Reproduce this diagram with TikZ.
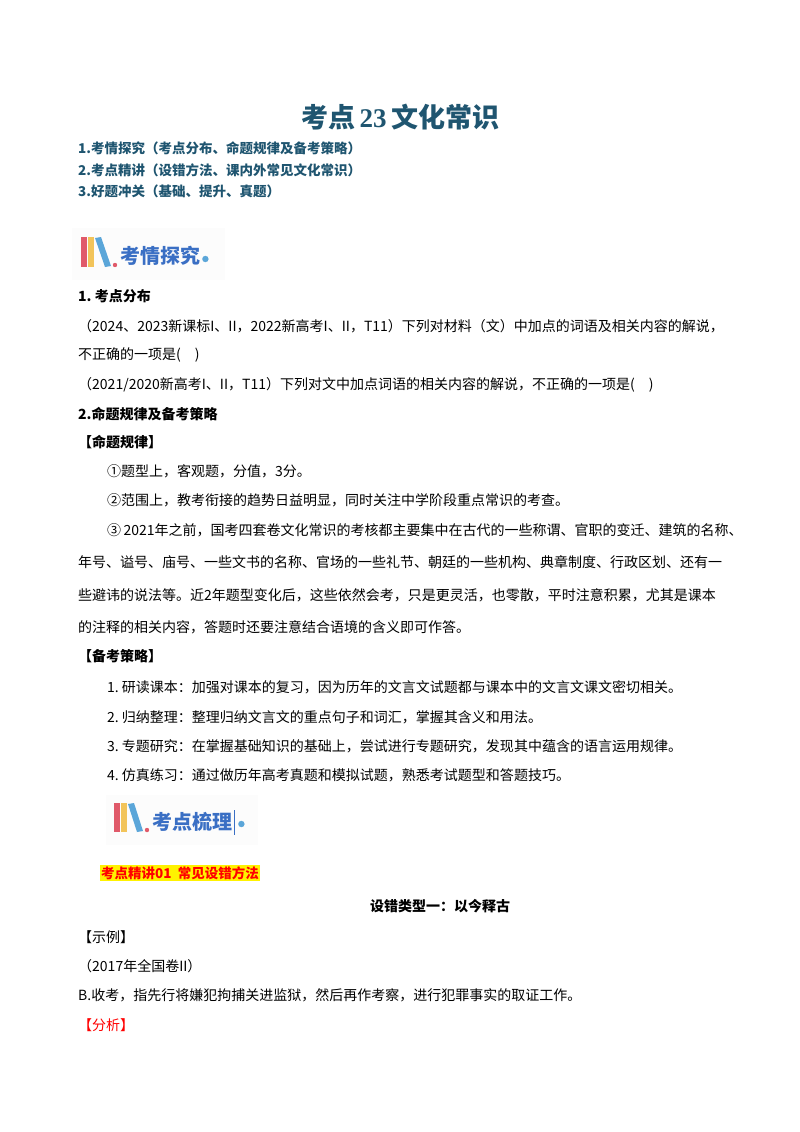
\documentclass[tikz,border=0pt]{standalone}
\usepackage{fontspec}
\setmainfont{Noto Sans CJK SC}
\newfontfamily\lat{Liberation Serif}
\definecolor{teal}{HTML}{1F5570}
\definecolor{iconblue}{HTML}{3A6FC4}
\definecolor{bkred}{HTML}{E05A6A}
\definecolor{bkyel}{HTML}{F2C45A}
\definecolor{bkblue}{HTML}{5BA6D9}
\begin{document}
\begin{tikzpicture}[x=1pt,y=-1pt,
  tx/.style={anchor=west,inner sep=0pt,font=\fontsize{14}{16}\selectfont},
  bx/.style={tx,font=\fontsize{14}{16}\selectfont\bfseries},
  hd/.style={anchor=west,inner sep=0pt,font=\fontsize{13.5}{16}\selectfont\bfseries,text=teal}]
\useasboundingbox[fill=white] (0,0) rectangle (800,1132);
\node[inner sep=0pt,font=\fontsize{27}{30}\selectfont\bfseries,text=teal] (title) at (400,117) {考点\,{\lat 23}\,文化常识};
\node[hd] (l1) at (78,148) {1.考情探究（考点分布、命题规律及备考策略）};
\node[hd] (l2) at (78,170) {2.考点精讲（设错方法、课内外常见文化常识）};
\node[hd] (l3) at (78,191) {3.好题冲关（基础、提升、真题）};
% icon 1
\fill[black!1] (72,228) rectangle (225,280);
\fill[bkred] (81,237) rectangle (87,267);
\fill[bkyel] (88,237) rectangle (94,267);
\fill[bkblue] (95,238) -- (101,237) -- (111,266) -- (105,267) -- cycle;
\fill[bkred] (115,265) circle (2.2);
\node[anchor=west,inner sep=0pt,font=\fontsize{20}{21}\selectfont\bfseries,text=iconblue] (ic1) at (120,256) {考情探究};
\fill[bkblue] (ic1.east)++(5,3) circle (3.2);
% section 1
\node[bx] (s1) at (78,296) {1.\ 考点分布};
\node[tx] at (78,326) {（2024、2023新课标I、II，2022新高考I、II，T11）下列对材料（文）中加点的词语及相关内容的解说，};
\node[tx] at (78,355) {不正确的一项是(\quad )};
\node[tx] at (78,385) {（2021/2020新高考I、II，T11）下列对文中加点词语的相关内容的解说，不正确的一项是(\quad )};
\node[bx] at (78,414) {2.命题规律及备考策略};
\node[bx] at (78,442) {【命题规律】};
\node[tx] at (107,471) {①题型上，客观题，分值，3分。};
\node[tx] at (107,500) {②范围上，教考衔接的趋势日益明显，同时关注中学阶段重点常识的考查。};
\node[tx] at (107,530) {③\,2021年之前，国考四套卷文化常识的考核都主要集中在古代的一些称谓、官职的变迁、建筑的名称、};
\node[tx] at (78,562) {年号、谥号、庙号、一些文书的名称、官场的一些礼节、朝廷的一些机构、典章制度、行政区划、还有一};
\node[tx] at (78,595) {些避讳的说法等。近2年题型变化后，这些依然会考，只是更灵活，也零散，平时注意积累，尤其是课本};
\node[tx] at (78,627) {的注释的相关内容，答题时还要注意结合语境的含义即可作答。};
\node[bx] at (78,656) {【备考策略】};
\node[tx] at (107,687) {1.\ 研读课本：加强对课本的复习，因为历年的文言文试题都与课本中的文言文课文密切相关。};
\node[tx] at (107,717) {2.\ 归纳整理：整理归纳文言文的重点句子和词汇，掌握其含义和用法。};
\node[tx] at (107,746) {3.\ 专题研究：在掌握基础知识的基础上，尝试进行专题研究，发现其中蕴含的语言运用规律。};
\node[tx] at (107,775) {4.\ 仿真练习：通过做历年高考真题和模拟试题，熟悉考试题型和答题技巧。};
% icon 2
\fill[black!1] (106,795) rectangle (258,845);
\fill[bkred] (114,803) rectangle (120,832);
\fill[bkyel] (121,803) rectangle (127,832);
\fill[bkblue] (128,804) -- (134,803) -- (143,831) -- (137,832) -- cycle;
\fill[bkred] (147,830) circle (2.2);
\node[anchor=west,inner sep=0pt,font=\fontsize{20}{21}\selectfont\bfseries,text=iconblue] (ic2) at (152,822) {考点梳理};
\draw[iconblue,line width=0.8] (ic2.east)++(2,-12) -- ++(0,25);
\fill[bkblue] (ic2.east)++(9,2) circle (3.2);
% section 2
\node[anchor=west,inner sep=1pt,fill=yellow,text=red,font=\fontsize{13.5}{16}\selectfont\bfseries] (hl) at (100,873) {考点精讲01\ \ 常见设错方法};
\node[inner sep=0pt,font=\fontsize{14}{16}\selectfont\bfseries] (t1) at (440,906) {设错类型一：以今释古};
\node[tx] at (78,937) {【示例】};
\node[tx] at (78,966) {（2017年全国卷II）};
\node[tx] at (78,995) {B.收考，指先行将嫌犯拘捕关进监狱，然后再作考察，进行犯罪事实的取证工作。};
\node[tx,text=red] at (78,1025) {【分析】};
\end{tikzpicture}
\end{document}
